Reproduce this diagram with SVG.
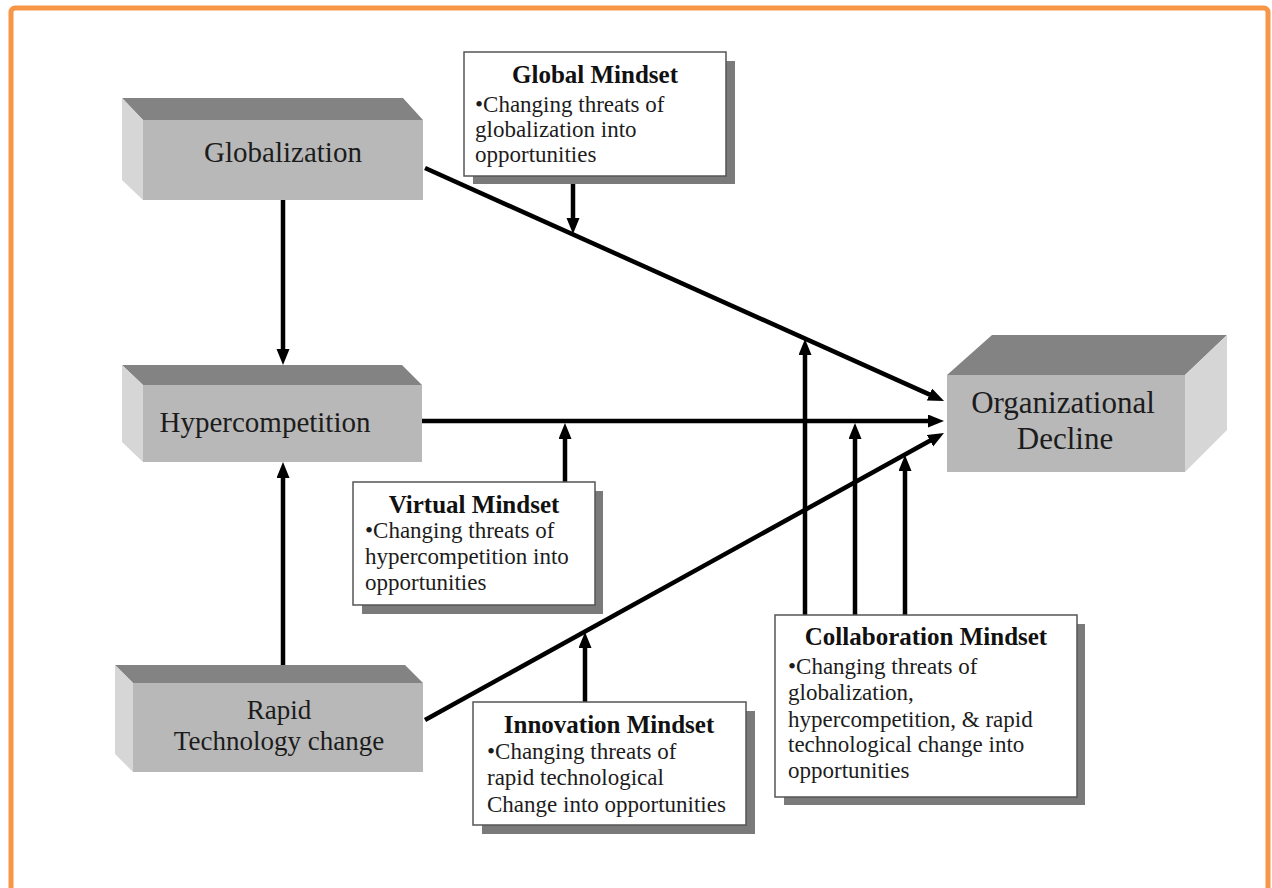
<svg xmlns="http://www.w3.org/2000/svg" width="1272" height="888" viewBox="0 0 1272 888">
<style>
.front{fill:#b8b8b8}
.top{fill:#838383}
.side{fill:#d6d6d6}
.lbl{font-family:"Liberation Serif","Times New Roman",serif;font-size:29px;fill:#1c1c1c}
.rp{font-size:27px}
.od{font-size:31px}
.mbox{fill:#ffffff;stroke:#555555;stroke-width:1.5}
.shadow{fill:#7a7a7a}
.ttl{font-family:"Liberation Serif","Times New Roman",serif;font-size:25px;font-weight:bold;fill:#111111;text-anchor:middle}
.body{font-family:"Liberation Serif","Times New Roman",serif;font-size:23px;fill:#1c1c1c}
.conn line{stroke:#000000;stroke-width:4.5;fill:none;marker-end:url(#arr)}
</style>
<defs>
<marker id="arr" markerUnits="userSpaceOnUse" markerWidth="17" markerHeight="14" refX="4" refY="6.5" orient="auto">
<path d="M0,0 L16,6.5 L0,13 z" fill="#000000"/>
</marker>
</defs>
<rect x="0" y="0" width="1272" height="888" fill="#ffffff"/>
<rect id="frame" x="11" y="8" width="1257" height="900" rx="4" fill="none" stroke="#f79646" stroke-width="5"/>

<g class="conn" id="connectors">
<line x1="425" y1="168" x2="933.1" y2="396.1"/>
<line x1="422" y1="421" x2="932" y2="421"/>
<line x1="425" y1="720" x2="933.5" y2="438.8"/>
<line x1="283" y1="200" x2="283" y2="353"/>
<line x1="283" y1="665" x2="283" y2="474"/>
<line x1="573" y1="176" x2="573" y2="222"/>
<line x1="565" y1="482" x2="565" y2="435"/>
<line x1="585" y1="702" x2="585" y2="644"/>
<line x1="805" y1="615" x2="805" y2="351"/>
<line x1="855" y1="615" x2="855" y2="435"/>
<line x1="905" y1="615" x2="905" y2="467"/>
</g>

<g id="globalization">
<polygon class="top" points="122,98 403,98 423,120 143,120"/>
<polygon class="side" points="122,98 143,120 143,200 122,180"/>
<rect class="front" x="143" y="120" width="280" height="80"/>
<text class="lbl" x="283" y="162" text-anchor="middle">Globalization</text>
</g>

<g id="hypercompetition">
<polygon class="top" points="122,365 402,365 422,385 143,385"/>
<polygon class="side" points="122,365 143,385 143,462 122,442"/>
<rect class="front" x="143" y="385" width="279" height="77"/>
<text class="lbl" x="265" y="432" text-anchor="middle">Hypercompetition</text>
</g>

<g id="rapid">
<polygon class="top" points="115,665 405,665 423,683 133,683"/>
<polygon class="side" points="115,665 133,683 133,772 115,754"/>
<rect class="front" x="133" y="683" width="290" height="89"/>
<text class="lbl rp" x="279" y="719" text-anchor="middle">Rapid</text>
<text class="lbl rp" x="279" y="750" text-anchor="middle">Technology change</text>
</g>

<g id="decline">
<polygon class="top" points="947,375 992,335 1227,335 1185,375"/>
<polygon class="side" points="1185,375 1227,335 1227,430 1185,472"/>
<rect class="front" x="947" y="375" width="238" height="97"/>
<text class="lbl od" x="1063" y="413" text-anchor="middle">Organizational</text>
<text class="lbl od" x="1065" y="449" text-anchor="middle">Decline</text>
</g>

<g id="global-mindset">
<rect class="shadow" x="473" y="61" width="262" height="123"/>
<rect class="mbox" x="464" y="52" width="262" height="124"/>
<text class="ttl" x="595" y="83">Global Mindset</text>
<text class="body" x="475" y="112">•Changing threats of</text>
<text class="body" x="475" y="137">globalization into</text>
<text class="body" x="475" y="162">opportunities</text>
</g>

<g id="virtual-mindset">
<rect class="shadow" x="362" y="491" width="241" height="123"/>
<rect class="mbox" x="353" y="482" width="242" height="123"/>
<text class="ttl" x="474" y="513">Virtual Mindset</text>
<text class="body" x="365" y="538">•Changing threats of</text>
<text class="body" x="365" y="564">hypercompetition into</text>
<text class="body" x="365" y="590">opportunities</text>
</g>

<g id="innovation-mindset">
<rect class="shadow" x="482" y="711" width="273" height="123"/>
<rect class="mbox" x="473" y="702" width="273" height="123"/>
<text class="ttl" x="609" y="733">Innovation Mindset</text>
<text class="body" x="487" y="759">•Changing threats of</text>
<text class="body" x="487" y="785">rapid technological</text>
<text class="body" x="487" y="812">Change into opportunities</text>
</g>

<g id="collaboration-mindset">
<rect class="shadow" x="784" y="624" width="301" height="181"/>
<rect class="mbox" x="775" y="615" width="302" height="182"/>
<text class="ttl" x="926" y="645">Collaboration Mindset</text>
<text class="body" x="788" y="674">•Changing threats of</text>
<text class="body" x="788" y="700">globalization,</text>
<text class="body" x="788" y="727">hypercompetition, &amp; rapid</text>
<text class="body" x="788" y="752">technological change into</text>
<text class="body" x="788" y="778">opportunities</text>
</g>
</svg>
